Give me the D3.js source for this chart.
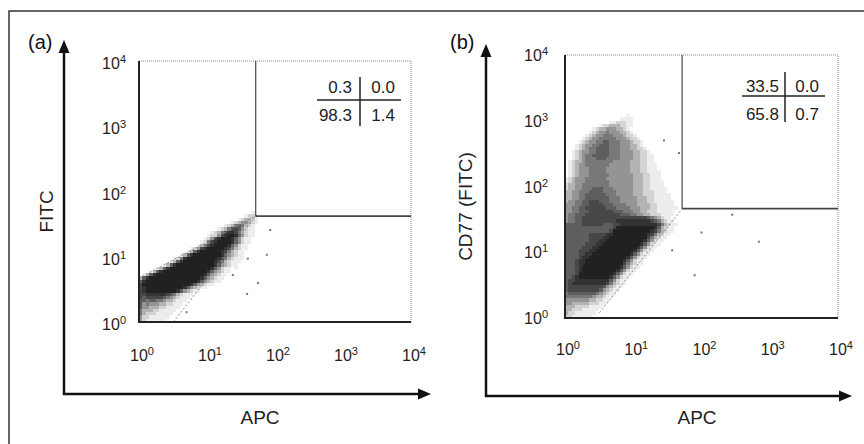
<!DOCTYPE html>
<html lang="en">
<head>
<meta charset="UTF-8" />
<title>CD77 / APC dot plots</title>
<script src="https://d3js.org/d3.v7.min.js"></script>
<style>
  body { margin: 0; background: #fff; }
  svg { display: block; font-family: "Liberation Sans", Arial, sans-serif; }
</style>
</head>
<body>
<svg width="864" height="444"></svg>
<script>
// ---- data ----
const tickExponents = [0, 1, 2, 3, 4];
const panelLabels = ["(a)", "(b)"];
const yTitles = ["FITC", "CD77 (FITC)"];
const xTitle = "APC";

// quadrant percentages [upper-left, upper-right], [lower-left, lower-right]
const quadA = [["0.3", "0.0"], ["98.3", "1.4"]];
const quadB = [["33.5", "0.0"], ["65.8", "0.7"]];

// gate corner [APC, FITC]
const gateA = [52, 42];
const gateB = [52, 46];

// dotted compensation guides, each [[APC, FITC], [APC, FITC]]
const compA = [[[1, 4.7], [52, 42]], [[3.2, 1], [52, 42]]];
const compB = [[[3.2, 1.2], [52, 46]]];

// event density, cells of 0.05 decade; rows run downward from the top log value,
// each row = [first column, levels 1-9]
const cellStep = 0.05;
const topLogA = 1.75;
const densityA = [
  [0, ""],
  [33, "1"],
  [31, "1221"],
  [29, "123321"],
  [27, "12344321"],
  [25, "123565321"],
  [23, "12357764211"],
  [21, "1235788753211"],
  [20, "12247899864211"],
  [19, "12478999864211"],
  [18, "125789999864211"],
  [17, "135789999864211"],
  [15, "12478999998753211"],
  [14, "13689999998753211"],
  [12, "1368999999998643211"],
  [10, "125899999999987532111"],
  [9, "136899999999987532111"],
  [7, "1368999999999998643211"],
  [5, "136899999999999986421101"],
  [3, "136899999999999998643211"],
  [1, "1368999999999999998643211"],
  [0, "3689999999999999998643211"],
  [0, "689999999999999998643211"],
  [0, "7999999999999998643211"],
  [0, "78999999999998643211"],
  [0, "789999999998643211"],
  [0, "7788888876532111"],
  [0, "767777765432111"],
  [0, "66566554332111"],
  [0, "6454443322111"],
  [0, "644333221111"],
  [0, "53332211111"],
  [0, "5322211111"],
  [0, "422111111"],
  [0, "42111111"]
];
const topLogB = 3.10;
const densityB = [
  [18, "1"],
  [16, "1111"],
  [13, "1122211"],
  [10, "1223332211"],
  [8, "12334443321"],
  [7, "1234454443321"],
  [6, "123445554443221"],
  [5, "12344555554443221"],
  [4, "1234455665554443221"],
  [3, "12344556665554443321"],
  [3, "123455666655544433221"],
  [2, "12344556666555444433221"],
  [2, "123455666665554444332211"],
  [2, "123455566655554444332211"],
  [1, "1233455555555444443332211"],
  [1, "12344555555544444433322111"],
  [1, "12344455555444444433322111"],
  [1, "123444555554444444333221111"],
  [1, "123444555555444444433322111"],
  [0, "1234445555554444444433322111"],
  [0, "12344455555554444444333221111"],
  [0, "23344555555554444444333221111"],
  [0, "233445556665554444443332211111"],
  [0, "334455566665555444443332221111"],
  [0, "3344556666665554444433322211111"],
  [0, "3344556666666555444443332211111"],
  [0, "34455667776665554444433322111111"],
  [0, "44455667777666555544433332211111"],
  [0, "445566777777666555544433322111111"],
  [0, "44556667777777666555443322211111"],
  [0, "45566677777777776665544332221111"],
  [0, "4556677777777777777777776543211"],
  [0, "45566777777777788888888887653211"],
  [0, "666667777776667788888888888753211"],
  [0, "66666666666666799999999999863211"],
  [0, "66666666666667999999999998753211"],
  [0, "6666666777778899999999998753211"],
  [0, "666666677778899999999999753211"],
  [0, "66666667778899999999999864211"],
  [0, "6666667778899999999999864211"],
  [0, "666667778899999999999864211"],
  [0, "66667778899999999999864211"],
  [0, "6666778899999999999864211"],
  [0, "666678899999999999864211"],
  [0, "66678899999999999864211"],
  [0, "66678899999999999753211"],
  [0, "6667899999999999864211"],
  [0, "666789999999999864211"],
  [0, "66679999999999864211"],
  [0, "6678999999999864211"],
  [0, "677888888888864211"],
  [0, "678888888888753211"],
  [0, "67777777777643211"],
  [0, "6777777777643211"],
  [0, "566666666543211"],
  [0, "55555555433211"],
  [0, "4444444332211"],
  [0, "443333322211"],
  [0, "33322221111"],
  [0, "3322211111"],
  [0, "322111111"],
  [0, "22111111"]
];

// isolated events [log10 APC, log10 FITC]
const outliersA = [[1.6, 0.97], [1.88, 1.03], [1.59, 0.43], [1.93, 1.41], [1.38, 0.72], [0.7, 0.15], [1.75, 0.6]];
const outliersB = [[1.9, 0.65], [2.84, 1.16], [1.57, 1.03], [2.45, 1.57], [1.67, 2.51], [1.45, 2.7], [2.0, 1.3]];

// ---- layout ----
const panels = [
  {
    label: panelLabels[0], yTitle: yTitles[0], quad: quadA, gate: gateA, comp: compA,
    density: densityA, topLog: topLogA, outliers: outliersA,
    box: { x0: 139, x1: 411, y0: 61, y1: 322 },
    axisX: 64, arrowTop: 40, axisY: 394, arrowRight: 431,
    labelX: 28, yTitleX: 53, xTitleX: 260, tickRight: 126, yTickShift: 8, xTickY: 361,
    table: { colL: 352, colR: 395, rows: [93, 121], h: [317, 401, 100], v: [360, 77, 126] }
  },
  {
    label: panelLabels[1], yTitle: yTitles[1], quad: quadB, gate: gateB, comp: compB,
    density: densityB, topLog: topLogB, outliers: outliersB,
    box: { x0: 565, x1: 838, y0: 55, y1: 318 },
    axisX: 486, arrowTop: 44, axisY: 396, arrowRight: 852,
    labelX: 450, yTitleX: 472, xTitleX: 697, tickRight: 548, yTickShift: 6, xTickY: 355,
    table: { colL: 779, colR: 819, rows: [92, 120], h: [742, 825, 96], v: [785, 72, 122] }
  }
];

const svg = d3.select("svg");
// darkness for each density level 0-9
const darkness = [0, 0.07, 0.17, 0.3, 0.42, 0.53, 0.63, 0.72, 0.8, 0.87];
const shade = lv => d3.interpolateRgb("#ffffff", "#000000")(darkness[lv]);

// outer frame
svg.append("path")
  .attr("d", "M9,444 L9,11 L864,11")
  .attr("fill", "none")
  .attr("stroke", "#333")
  .attr("stroke-width", 1.5);

function power(sel, e) {
  sel.append("tspan").text("10");
  sel.append("tspan").attr("font-size", 11).attr("dy", -6).text(e);
}

panels.forEach(p => {
  const b = p.box;
  const x = d3.scaleLog().domain([1, 1e4]).range([b.x0, b.x1]);
  const y = d3.scaleLog().domain([1, 1e4]).range([b.y1, b.y0]);
  const g = svg.append("g");

  // density cells
  const cells = [];
  p.density.forEach((row, r) => {
    row[1].split("").forEach((ch, i) => {
      const lv = +ch;
      if (lv > 0) cells.push({ c: row[0] + i, r: r, lv: lv });
    });
  });
  g.append("g")
    .attr("shape-rendering", "crispEdges")
    .selectAll("rect")
    .data(cells)
    .join("rect")
    .attr("x", d => x(Math.pow(10, d.c * cellStep)))
    .attr("width", d => x(Math.pow(10, (d.c + 1) * cellStep)) - x(Math.pow(10, d.c * cellStep)))
    .attr("y", d => y(Math.pow(10, p.topLog - d.r * cellStep)))
    .attr("height", d => y(Math.pow(10, p.topLog - (d.r + 1) * cellStep)) - y(Math.pow(10, p.topLog - d.r * cellStep)))
    .attr("fill", d => shade(d.lv));

  g.selectAll("rect.out")
    .data(p.outliers)
    .join("rect")
    .attr("class", "out")
    .attr("x", d => x(Math.pow(10, d[0])) - 1)
    .attr("y", d => y(Math.pow(10, d[1])) - 1)
    .attr("width", 2)
    .attr("height", 2)
    .attr("fill", "#777");

  // compensation guides
  const line = d3.line().x(d => x(d[0])).y(d => y(d[1]));
  g.selectAll("path.comp")
    .data(p.comp)
    .join("path")
    .attr("class", "comp")
    .attr("d", line)
    .attr("fill", "none")
    .attr("stroke", "#888")
    .attr("stroke-width", 1)
    .attr("stroke-dasharray", "2,2");

  // plot frame: dotted top/right, solid left/bottom
  g.append("path")
    .attr("d", `M${b.x0},${b.y0} L${b.x1},${b.y0} L${b.x1},${b.y1}`)
    .attr("fill", "none")
    .attr("stroke", "#888")
    .attr("stroke-width", 1)
    .attr("stroke-dasharray", "1,1");
  g.append("path")
    .attr("d", `M${b.x0},${b.y0} L${b.x0},${b.y1} L${b.x1},${b.y1}`)
    .attr("fill", "none")
    .attr("stroke", "#222")
    .attr("stroke-width", 2);

  // quadrant gate
  const gx = x(p.gate[0]), gy = y(p.gate[1]);
  g.append("line")
    .attr("x1", gx).attr("x2", gx).attr("y1", b.y0).attr("y2", gy)
    .attr("stroke", "#555").attr("stroke-width", 1.3);
  g.append("line")
    .attr("x1", gx).attr("x2", b.x1).attr("y1", gy).attr("y2", gy)
    .attr("stroke", "#444").attr("stroke-width", 1.6);

  // quadrant table
  const t = p.table;
  g.append("line")
    .attr("x1", t.h[0]).attr("x2", t.h[1]).attr("y1", t.h[2]).attr("y2", t.h[2])
    .attr("stroke", "#222").attr("stroke-width", 1.5);
  g.append("line")
    .attr("x1", t.v[0]).attr("x2", t.v[0]).attr("y1", t.v[1]).attr("y2", t.v[2])
    .attr("stroke", "#222").attr("stroke-width", 1.5);
  p.quad.forEach((row, i) => {
    g.append("text").attr("x", t.colL).attr("y", t.rows[i])
      .attr("text-anchor", "end").attr("font-size", 17).attr("fill", "#222").text(row[0]);
    g.append("text").attr("x", t.colR).attr("y", t.rows[i])
      .attr("text-anchor", "end").attr("font-size", 17).attr("fill", "#222").text(row[1]);
  });

  // tick labels
  g.selectAll("text.yt")
    .data(tickExponents)
    .join("text")
    .attr("class", "yt")
    .attr("x", p.tickRight)
    .attr("y", e => y(Math.pow(10, e)) + p.yTickShift)
    .attr("text-anchor", "end")
    .attr("font-size", 16)
    .attr("fill", "#222")
    .each(function(e) { power(d3.select(this), e); });
  g.selectAll("text.xt")
    .data(tickExponents)
    .join("text")
    .attr("class", "xt")
    .attr("x", e => x(Math.pow(10, e)) + 3)
    .attr("y", p.xTickY)
    .attr("text-anchor", "middle")
    .attr("font-size", 16)
    .attr("fill", "#222")
    .each(function(e) { power(d3.select(this), e); });

  // axis arrows
  g.append("line")
    .attr("x1", p.axisX).attr("x2", p.axisX).attr("y1", p.axisY + 1).attr("y2", p.arrowTop + 10)
    .attr("stroke", "#111").attr("stroke-width", 2.5);
  g.append("path")
    .attr("d", `M${p.axisX},${p.arrowTop} L${p.axisX - 5.5},${p.arrowTop + 13} L${p.axisX + 5.5},${p.arrowTop + 13} Z`)
    .attr("fill", "#111");
  g.append("line")
    .attr("x1", p.axisX - 1).attr("x2", p.arrowRight - 10).attr("y1", p.axisY).attr("y2", p.axisY)
    .attr("stroke", "#111").attr("stroke-width", 2.5);
  g.append("path")
    .attr("d", `M${p.arrowRight},${p.axisY} L${p.arrowRight - 13},${p.axisY - 5.5} L${p.arrowRight - 13},${p.axisY + 5.5} Z`)
    .attr("fill", "#111");

  // titles
  g.append("text")
    .attr("x", p.labelX).attr("y", 49)
    .attr("font-size", 20).attr("fill", "#111")
    .text(p.label);
  g.append("text")
    .attr("transform", `translate(${p.yTitleX},${(b.y0 + b.y1) / 2 + 20}) rotate(-90)`)
    .attr("text-anchor", "middle")
    .attr("font-size", 19).attr("fill", "#222")
    .text(p.yTitle);
  g.append("text")
    .attr("x", p.xTitleX).attr("y", 424)
    .attr("text-anchor", "middle")
    .attr("font-size", 19).attr("fill", "#222")
    .text(xTitle);
});
</script>
</body>
</html>
